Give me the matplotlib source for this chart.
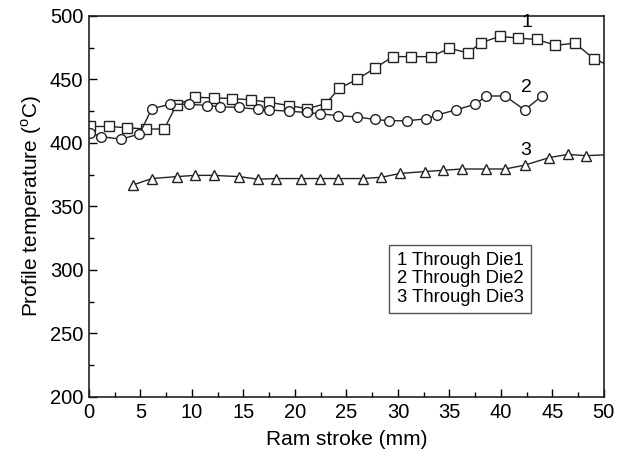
import numpy as np
import matplotlib
matplotlib.use("Agg")
from matplotlib import pyplot as plt
from matplotlib.ticker import MultipleLocator

plt.rcParams['font.family'] = ['Liberation Sans', 'DejaVu Sans']
plt.rcParams['mathtext.fontset'] = 'custom'
plt.rcParams['mathtext.rm'] = 'Liberation Sans'

# Die 1 (squares)
x1 = [0.1, 1.9, 3.7, 5.5, 7.3, 8.5, 10.3, 12.1, 13.9, 15.7, 17.5, 19.4, 21.2,
      23.0, 24.3, 26.0, 27.8, 29.5, 31.3, 33.2, 35.0, 36.8, 38.1, 39.9, 41.7,
      43.5, 45.3, 47.2, 49.0, 51.0]
t1 = [413, 413, 412, 411, 411, 430, 436, 435.5, 435, 434, 432, 429.5, 427,
      431, 443, 450, 459, 468, 468, 468, 474.5, 471, 479, 484, 482.5,
      481.5, 477, 478.5, 466.5, 459]

# Die 2 (circles)
x2 = [0.1, 1.2, 3.1, 4.9, 6.1, 7.9, 9.7, 11.5, 12.7, 14.6, 16.4, 17.5, 19.4,
      21.2, 22.4, 24.2, 26.0, 27.8, 29.1, 30.9, 32.7, 33.8, 35.6, 37.5, 38.6,
      40.4, 42.3, 44.0]
t2 = [408, 405, 403, 407, 427, 430.5, 430.5, 429.5, 428.5, 428, 426.5, 426,
      425, 424, 423, 421.5, 420.5, 418.5, 417.5, 417.5, 419, 422, 426, 430.5,
      437, 437, 426, 437]

# Die 3 (triangles)
x3 = [4.3, 6.1, 8.5, 10.3, 12.1, 14.6, 16.4, 18.2, 20.6, 22.4, 24.2, 26.6,
      28.4, 30.2, 32.6, 34.4, 36.2, 38.6, 40.4, 42.3, 44.7, 46.5, 48.3, 51.0]
t3 = [367, 372, 373.5, 374.5, 374.5, 373.5, 371.5, 372, 372, 372, 372, 372,
      373, 376, 377.5, 378.5, 379.5, 379.5, 379.5, 382.5, 388.5, 391, 390,
      391]

legend_lines = ["1 Through Die1", "2 Through Die2", "3 Through Die3"]

fig = plt.figure(figsize=(6.31, 4.54), dpi=100)
ax = fig.add_axes([0.141, 0.1256, 0.816, 0.8392])

style = dict(color='#222222', lw=1.0, mfc='white', mec='#222222', mew=1.0,
             clip_on=True)
ax.plot(x1, t1, marker='s', ms=6.5, **style)
ax.plot(x2, t2, marker='o', ms=7, **style)
ax.plot(x3, t3, marker='^', ms=7, **style)

ax.text(42.5, 495, "1", fontsize=14, ha='center', va='center')
ax.text(42.5, 444, "2", fontsize=14, ha='center', va='center')
ax.text(42.4, 394, "3", fontsize=14, ha='center', va='center')

ax.text(29.9, 314, "\n".join(legend_lines),
        fontsize=13.3, va='top', ha='left', linespacing=1.1,
        bbox=dict(boxstyle='square,pad=0.4', fc='white', ec='#555555',
                  lw=1.0))

ax.set_xlim(0, 50)
ax.set_ylim(200, 500)
ax.xaxis.set_major_locator(MultipleLocator(5))
ax.xaxis.set_minor_locator(MultipleLocator(2.5))
ax.yaxis.set_major_locator(MultipleLocator(50))
ax.yaxis.set_minor_locator(MultipleLocator(25))
ax.tick_params(which='major', direction='in', length=6, width=1,
               labelsize=14.5, pad=4)
ax.tick_params(which='minor', direction='in', length=3.5, width=1)
for s in ax.spines.values():
    s.set_linewidth(1.2)
    s.set_color('#222222')

ax.set_xlabel("Ram stroke (mm)", fontsize=15, labelpad=6)
ax.set_ylabel(r"Profile temperature ($^{\rm o}$C)", fontsize=15, labelpad=4)

fig.savefig("out.png", dpi=100)
plt.close()
